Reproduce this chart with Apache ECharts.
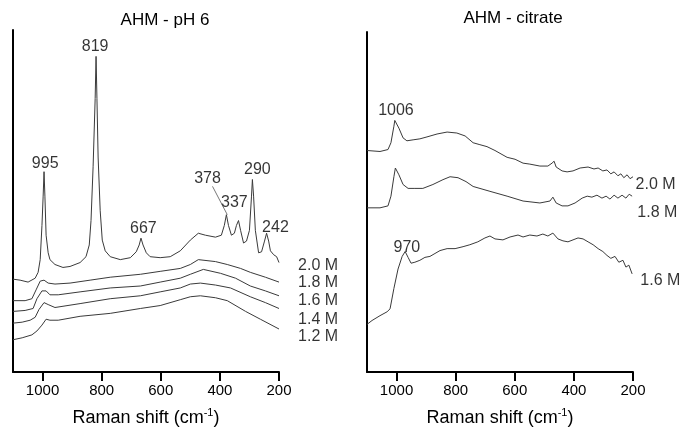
<!DOCTYPE html>
<html>
<head>
<meta charset="utf-8">
<script src="https://cdn.jsdelivr.net/npm/echarts@6/dist/echarts.min.js"></script>
<style>
  html, body { margin: 0; padding: 0; background: #fff; }
  #chart { width: 681px; height: 434px; }
</style>
</head>
<body>
<div id="chart"></div>
<script>
// Raman spectra, x = Raman shift (cm-1), y = offset intensity (arbitrary units)
var tickValues = [200, 400, 600, 800, 1000];

// AHM - pH 6
var ph6_20 = [[1100,95],[1076,94],[1049,92],[1025,96],[1015,102],[1008,115],[1002,150],[998,180],[995,205],[992,180],
  [988,140],[981,122],[975,115],[958,110],[931,107],[907,108],[873,112],[853,118],[842,130],[836,155],[829,210],
  [822,280],[819,323],[816,280],[812,220],[805,165],[798,135],[788,124],[771,118],[737,115],[703,117],[683,123],
  [673,130],[667,137],[660,130],[649,122],[636,118],[602,117],[568,118],[534,124],[500,135],[473,142],[449,140],
  [415,138],[395,140],[385,150],[378,161],[371,150],[361,140],[351,142],[344,150],[337,155],[330,145],[320,132],
  [310,134],[300,145],[293,180],[290,197],[286,180],[280,145],[269,122],[259,123],[249,134],[242,142],[235,134],
  [229,124],[218,120],[208,118],[200,112]];
var ph6_18 = [[1100,73],[1059,73],[1036,75],[1022,84],[1008,93],[995,94],[981,91],[958,90],[907,91],[839,94],
  [771,97],[669,100],[602,103],[534,106],[500,110],[473,115],[415,113],[375,110],[330,106],[297,102],[246,97],[200,92]];
var ph6_16 = [[1100,62],[1059,63],[1032,65],[1019,75],[1002,83],[988,83],[975,79],[947,79],[873,82],[771,86],
  [669,88],[602,92],[534,96],[500,100],[456,105],[398,101],[347,96],[297,88],[246,83],[200,78]];
var ph6_14 = [[1100,50],[1069,51],[1042,53],[1025,56],[1012,64],[995,71],[981,69],[958,66],[873,70],[771,75],
  [669,78],[602,82],[534,86],[500,90],[466,91],[415,89],[364,86],[297,77],[246,71],[200,65]];
var ph6_12 = [[1100,33],[1069,35],[1036,38],[1019,42],[1002,48],[988,54],[975,53],[947,53],[873,57],[771,60],
  [669,65],[602,68],[534,74],[500,77],[466,78],[415,76],[375,73],[313,62],[263,54],[200,44]];

// AHM - citrate
var cit_20 = [[1100,228],[1056,227],[1029,229],[1019,236],[1009,253],[1006,259],[992,251],[978,241],[965,238],
  [944,239],[921,240],[897,242],[863,245],[829,247],[796,246],[768,243],[741,236],[718,234],[694,232],[667,228],
  [626,221],[599,219],[572,215],[549,214],[515,212],[488,212],[474,215],[467,217],[460,211],[440,207],[423,206],
  [403,207],[379,210],[352,211],[332,209],[318,210],[302,207],[288,208],[275,204],[264,206],[251,202],[241,204],
  [231,200],[220,203],[210,199],[200,201]];
var cit_18 = [[1100,169],[1056,169],[1029,171],[1019,181],[1009,201],[1004,210],[992,203],[978,193],[961,189],
  [938,189],[911,189],[877,193],[843,198],[819,201],[792,200],[765,196],[741,191],[684,186],[626,181],[572,176],
  [515,174],[481,176],[471,180],[460,174],[440,171],[420,171],[396,174],[372,179],[355,181],[339,180],[322,182],
  [305,179],[291,181],[278,178],[264,182],[251,179],[237,182],[224,179],[213,183],[203,181]];
var cit_16 = [[1100,49],[1083,53],[1056,58],[1032,62],[1022,65],[1009,86],[995,106],[981,119],[971,124],[961,118],
  [951,112],[938,113],[921,115],[904,118],[887,119],[870,122],[853,125],[829,127],[802,127],[775,129],[752,131],
  [725,134],[701,138],[684,140],[667,137],[640,136],[616,139],[589,141],[572,139],[549,141],[525,140],[505,142],
  [488,140],[471,143],[454,137],[437,135],[420,134],[403,136],[386,138],[369,137],[352,134],[335,131],[318,127],
  [302,124],[288,120],[275,117],[261,119],[248,113],[234,115],[224,108],[214,110],[203,101]];

// annotations [x, y, text]
var ph6Peaks = [[991,213,'995'],[822,333,'819'],[659,147,'667'],[442,198,'378'],[351,173,'337'],[273,207,'290'],[212,148,'242']];
var ph6Leader = [[425,190],[375,161]];
var ph6Names = [[137,109,'2.0 M'],[137,91,'1.8 M'],[137,73,'1.6 M'],[137,54,'1.4 M'],[137,36,'1.2 M']];
var citPeaks = [[1002,269,'1006'],[965,128,'970']];
var citNames = [[193,193,'2.0 M'],[187,164,'1.8 M'],[177,94,'1.6 M']];
var panelTitles = ['AHM - pH 6', 'AHM - citrate'];

var FONT = 'Liberation Sans, Arial, sans-serif';

function xAxisFor(idx) {
  return {
    type: 'value', gridIndex: idx, min: 200, max: 1100, inverse: true,
    axisLine: { onZero: false, lineStyle: { color: '#000', width: 2 } },
    axisTick: { customValues: tickValues, length: 9, lineStyle: { color: '#000', width: 2 } },
    axisLabel: { customValues: tickValues, color: '#000', fontSize: 15, margin: 11, fontFamily: FONT,
      formatter: function (v) { return String(v); } },
    splitLine: { show: false },
    name: 'Raman shift (cm{sup|-1})',
    nameLocation: 'middle', nameGap: 35,
    nameTextStyle: {
      color: '#000', fontSize: 18, fontFamily: FONT, lineHeight: 22,
      rich: { sup: { fontSize: 11, fontFamily: FONT, color: '#000', verticalAlign: 'top', lineHeight: 22 } }
    }
  };
}
function yAxisFor(idx) {
  return {
    type: 'value', gridIndex: idx, min: 0, max: 350,
    axisLine: { show: true, onZero: false, lineStyle: { color: '#000', width: 2 } },
    axisTick: { show: false }, axisLabel: { show: false }, splitLine: { show: false }
  };
}
function trace(idx, data) {
  return {
    type: 'line', xAxisIndex: idx, yAxisIndex: idx, data: data, showSymbol: false, silent: true,
    lineStyle: { color: '#3a3a3a', width: 1 }
  };
}
function textSeries(idx, data, pos) {
  return {
    type: 'scatter', xAxisIndex: idx, yAxisIndex: idx, data: data, symbolSize: 1, clip: false, silent: true,
    itemStyle: { color: 'transparent' },
    label: {
      show: true, position: pos, distance: 0, color: '#000', fontSize: 16, fontFamily: FONT,
      formatter: function (p) { return p.value[2]; }
    }
  };
}

var chart = echarts.init(document.getElementById('chart'));
chart.setOption({
  animation: false,
  backgroundColor: '#fff',
  graphic: [
    { type: 'text', x: 165, y: 12, silent: true,
      style: { text: panelTitles[0], fill: '#000', font: '17px ' + FONT, textAlign: 'center' } },
    { type: 'text', x: 513, y: 10, silent: true,
      style: { text: panelTitles[1], fill: '#000', font: '17px ' + FONT, textAlign: 'center' } }
  ],
  grid: [
    { left: 13, top: 30, width: 266, height: 350 },
    { left: 367, top: 32, width: 266, height: 349 }
  ],
  xAxis: [xAxisFor(0), xAxisFor(1)],
  yAxis: [yAxisFor(0), yAxisFor(1)],
  series: [
    trace(0, ph6_20), trace(0, ph6_18), trace(0, ph6_16), trace(0, ph6_14), trace(0, ph6_12),
    trace(1, cit_20), trace(1, cit_18), trace(1, cit_16),
    { type: 'line', xAxisIndex: 0, yAxisIndex: 0, data: ph6Leader, showSymbol: false, silent: true,
      lineStyle: { color: '#555', width: 0.8 } },
    textSeries(0, ph6Peaks, 'inside'),
    textSeries(0, ph6Names, 'right'),
    textSeries(1, citPeaks, 'inside'),
    textSeries(1, citNames, 'right')
  ]
});
</script>
</body>
</html>
